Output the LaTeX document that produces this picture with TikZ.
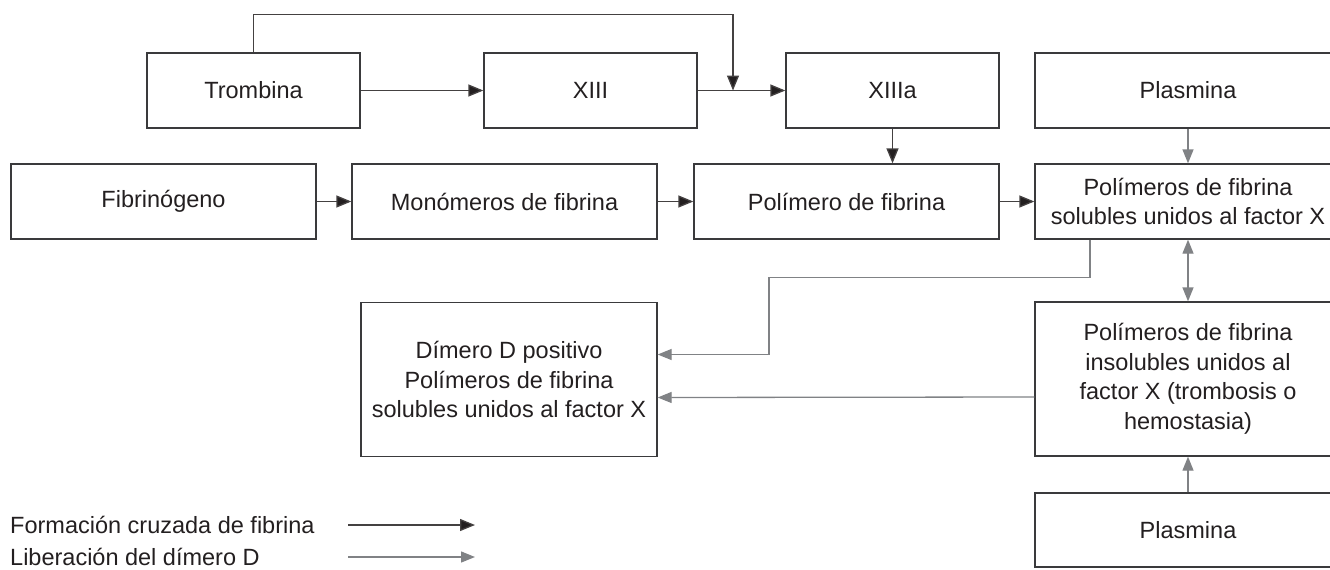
\documentclass[tikz,border=0pt]{standalone}
\usepackage{fontspec}
\setmainfont{Liberation Sans}
\usetikzlibrary{arrows.meta}
\definecolor{ink}{HTML}{231F20}
\definecolor{edge}{HTML}{3A3A3C}
\definecolor{soft}{HTML}{808285}
\begin{document}
\begin{tikzpicture}[x=1pt,y=-1pt,
  box/.style={draw=edge,line width=1.3pt,rectangle,inner sep=0pt,align=center,
    text=ink,font=\fontsize{23.5}{29.5}\selectfont},
  narrow/.style={box,minimum width=213pt,minimum height=75pt},
  wide/.style={box,minimum width=305pt,minimum height=75pt},
  blk/.style={draw=ink!85,line width=1.3pt,-{Triangle[length=15pt,width=12pt,fill=ink]}},
  gry/.style={draw=soft,line width=1.3pt,-{Triangle[length=14pt,width=11pt,fill=soft]}},
  gry2/.style={draw=soft,line width=1.3pt,{Triangle[length=14pt,width=11pt,fill=soft]}-{Triangle[length=14pt,width=11pt,fill=soft]}},
  legend/.style={anchor=west,inner sep=0pt,text=ink,font=\fontsize{23.5}{29.5}\selectfont}]
\useasboundingbox (0,0) rectangle (1330,570);
\clip (0,0) rectangle (1330,570);

% first row
\node[narrow] (trom) at (253.5,90.5) {Trombina};
\node[narrow] (xiii) at (590.5,90.5) {XIII};
\node[narrow] (xiiia) at (892.5,90.5) {XIIIa};
\node[box,minimum width=306pt,minimum height=75pt] (plas1) at (1188,90.5) {Plasmina};

% second row
\node[wide] (fib) at (163.5,201.5) {Fibrinógeno};
\node[wide] (mono) at (504.5,201.5) {Monómeros de fibrina};
\node[wide] (poli) at (846.5,201.5) {Polímero de fibrina};
\node[box,minimum width=306pt,minimum height=75pt] (sol) at (1188,201.5)
  {Polímeros de fibrina\\solubles unidos al factor X};

% lower boxes
\node[box,minimum width=296pt,minimum height=154pt] (dim) at (509,379.5)
  {Dímero D positivo\\Polímeros de fibrina\\solubles unidos al factor X};
\node[box,minimum width=306pt,minimum height=154pt] (insol) at (1188,379)
  {Polímeros de fibrina\\insolubles unidos al\\factor X (trombosis o\\hemostasia)};
\node[box,minimum width=306pt,minimum height=74pt] (plas2) at (1188,530) {Plasmina};

% cross-linking pathway
\coordinate (j) at (733,90.5);
\draw[blk] (trom) -- (xiii);
\draw[blk] (xiii) -- (xiiia);
\draw[blk] (trom.north) -- ++(0,-38) -| (j);
\draw[blk] (xiiia.south) -- (xiiia.south |- poli.north);
\draw[blk] (fib) -- (mono);
\draw[blk] (mono) -- (poli);
\draw[blk] (poli) -- (sol);

% D-dimer release
\draw[gry] (plas1) -- (sol);
\draw[gry2] (sol) -- (insol);
\draw[gry] (plas2) -- (insol);
\draw[gry] ([xshift=-98pt]sol.south) -- ++(0,38) -- ++(-321,0) |- ([yshift=25pt]dim.east);
\draw[gry] ([yshift=-18pt]insol.west) -- ([yshift=-18pt]dim.east);

% legend
\node[legend] (l1) at (10,525) {Formación cruzada de fibrina};
\node[legend] (l2) at (10,557) {Liberación del dímero D};
\coordinate (a1) at (348,525);
\coordinate (b1) at (475,525);
\coordinate (a2) at (348,557);
\coordinate (b2) at (475,557);
\draw[blk] (a1) -- (b1);
\draw[gry] (a2) -- (b2);
\end{tikzpicture}
\end{document}
